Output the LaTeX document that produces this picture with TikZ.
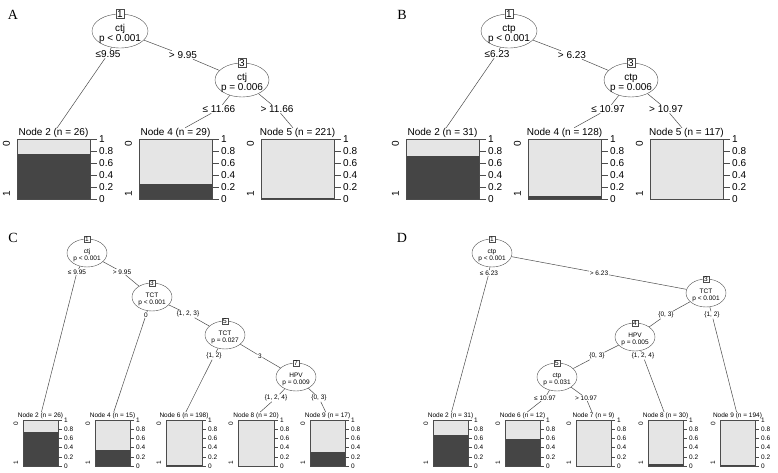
\documentclass[tikz,border=0pt]{standalone}
\usepackage{fontspec}
\setmainfont{Liberation Sans}
\newfontfamily\serifp{Liberation Serif}
\usetikzlibrary{shapes.geometric}
\definecolor{dk}{gray}{0.27}
\definecolor{lt}{gray}{0.9}
\definecolor{ln}{gray}{0.3}
\tikzset{
  fA/.style={font=\fontsize{10}{11}\selectfont},
  fC/.style={font=\fontsize{6.5}{7}\selectfont},
  ell/.style={draw=ln,ellipse,inner sep=0pt},
  numb/.style={draw=ln,fill=white,inner sep=1pt,minimum width=0pt},
  elab/.style={fill=white,inner sep=0.5pt},
  edge/.style={draw=ln,line width=0.5pt},
  panel/.style={font=\serifp\fontsize{14}{15}\selectfont}
}
\newcommand{\innode}[9]{%
  \node[ell,minimum width={2*#4},minimum height={2*#5}] (#1) at (#2,#3) {};
  \node[numb,#9] (#1n) at (#2,{#3-#5}) {#6};
  \node[#9,inner sep=0pt] (#1v) at (#2,{#3-0.1*#5}) {#7};
  \node[#9,inner sep=0pt] (#1p) at (#2,{#3+0.45*#5}) {#8};
}
\newcommand{\leaf}[9]{%
  \fill[lt] (#2,#3) rectangle ({#2+#4},{#3+#5});
  \fill[dk] (#2,{#3+#5}) rectangle ({#2+#4},{#3+#5-#6*#5});
  \draw[ln] (#2,#3) rectangle ({#2+#4},{#3+#5});
  \node[#8,anchor=south,inner sep=0.5pt] (#1) at ({#2+#4/2},{#3-0.5}) {#7};
  \foreach \v in {0,0.2,0.4,0.6,0.8,1}{
    \draw[ln] ({#2+#4},{#3+#5-\v*#5}) -- ({#2+#4+2.2*#9},{#3+#5-\v*#5});
    \node[#8,anchor=west,inner sep=0pt] at ({#2+#4+3*#9},{#3+#5-\v*#5}) {\v};
  }
  \node[#8,rotate=90,inner sep=0pt] at ({#2-3.5*#9},{#3+0.08*#5}) {0};
  \node[#8,rotate=90,inner sep=0pt] at ({#2-3.5*#9},{#3+0.92*#5}) {1};
}
\begin{document}
\begin{tikzpicture}[x=1pt,y=-1pt]
\useasboundingbox (0,0) rectangle (778,473);
\node[panel] at (13,15) {A};
\node[panel] at (402,15) {B};
\node[panel] at (13,238) {C};
\node[panel] at (402,238) {D};
% ---------- A
\innode{a1}{120}{31}{28}{17}{1}{ctj}{p < 0.001}{fA}
\innode{a3}{242}{80}{27}{17}{3}{ctj}{p = 0.006}{fA}
\node[fA,elab] (a1l) at (108,54) {≤9.95};
\node[fA,elab] (a1r) at (183,55) {> 9.95};
\node[fA,elab] (a3l) at (219,109) {≤ 11.66};
\node[fA,elab] (a3r) at (277,109) {> 11.66};
\leaf{a2}{17}{139}{73}{60}{0.75}{Node 2 (n = 26)}{fA}{3}
\leaf{a4}{139}{139}{73}{60}{0.25}{Node 4 (n = 29)}{fA}{3}
\leaf{a5}{261}{139}{73}{60}{0.02}{Node 5 (n = 221)}{fA}{3}
\draw[edge] (a1) -- (a1l); \draw[edge] (a1l) -- (a2);
\draw[edge] (a1) -- (a1r); \draw[edge] (a1r) -- (a3);
\draw[edge] (a3) -- (a3l); \draw[edge] (a3l) -- (a4);
\draw[edge] (a3) -- (a3r); \draw[edge] (a3r) -- (a5);
% ---------- B
\innode{b1}{509}{31}{28}{17}{1}{ctp}{p < 0.001}{fA}
\innode{b3}{631}{80}{27}{17}{3}{ctp}{p = 0.006}{fA}
\node[fA,elab] (b1l) at (497,54) {≤6.23};
\node[fA,elab] (b1r) at (572,55) {> 6.23};
\node[fA,elab] (b3l) at (608,109) {≤ 10.97};
\node[fA,elab] (b3r) at (666,109) {> 10.97};
\leaf{b2}{406}{139}{73}{60}{0.72}{Node 2 (n = 31)}{fA}{3}
\leaf{b4}{528}{139}{73}{60}{0.05}{Node 4 (n = 128)}{fA}{3}
\leaf{b5}{650}{139}{73}{60}{0}{Node 5 (n = 117)}{fA}{3}
\draw[edge] (b1) -- (b1l); \draw[edge] (b1l) -- (b2);
\draw[edge] (b1) -- (b1r); \draw[edge] (b1r) -- (b3);
\draw[edge] (b3) -- (b3l); \draw[edge] (b3l) -- (b4);
\draw[edge] (b3) -- (b3r); \draw[edge] (b3r) -- (b5);
% ---------- C
\innode{c1}{87}{253}{20}{14}{1}{ctj}{p < 0.001}{fC}
\innode{c3}{152}{297}{20}{14}{3}{TCT}{p < 0.001}{fC}
\innode{c5}{225}{335}{20}{14}{5}{TCT}{p = 0.027}{fC}
\innode{c7}{296}{377}{20}{14}{7}{HPV}{p = 0.009}{fC}
\node[fC,elab] (c1l) at (77,272) {≤ 9.95};
\node[fC,elab] (c1r) at (122,272) {> 9.95};
\node[fC,elab] (c3l) at (146,315) {0};
\node[fC,elab] (c3r) at (188,314) {\{1, 2, 3\}};
\node[fC,elab] (c5l) at (214,356) {\{1, 2\}};
\node[fC,elab] (c5r) at (260,356) {3};
\node[fC,elab] (c7l) at (276,398) {\{1, 2, 4\}};
\node[fC,elab] (c7r) at (319,398) {\{0, 3\}};
\leaf{c2}{23}{420}{35}{46}{0.75}{Node 2 (n = 26)}{fC}{2}
\leaf{c4}{95}{420}{35}{46}{0.35}{Node 4 (n = 15)}{fC}{2}
\leaf{c6}{166}{420}{36}{46}{0.02}{Node 6 (n = 198)}{fC}{2}
\leaf{c8}{238}{420}{36}{46}{0}{Node 8 (n = 20)}{fC}{2}
\leaf{c9}{310}{420}{35}{46}{0.3}{Node 9 (n = 17)}{fC}{2}
\draw[edge] (c1) -- (c1l); \draw[edge] (c1l) -- (c2);
\draw[edge] (c1) -- (c1r); \draw[edge] (c1r) -- (c3);
\draw[edge] (c3) -- (c3l); \draw[edge] (c3l) -- (c4);
\draw[edge] (c3) -- (c3r); \draw[edge] (c3r) -- (c5);
\draw[edge] (c5) -- (c5l); \draw[edge] (c5l) -- (c6);
\draw[edge] (c5) -- (c5r); \draw[edge] (c5r) -- (c7);
\draw[edge] (c7) -- (c7l); \draw[edge] (c7l) -- (c8);
\draw[edge] (c7) -- (c7r); \draw[edge] (c7r) -- (c9);
% ---------- D
\innode{d1}{492}{253}{20}{14}{1}{ctp}{p < 0.001}{fC}
\innode{d3}{706}{293}{20}{14}{3}{TCT}{p < 0.001}{fC}
\innode{d4}{635}{337}{20}{14}{4}{HPV}{p = 0.005}{fC}
\innode{d5}{557}{377}{20}{14}{5}{ctp}{p = 0.031}{fC}
\node[fC,elab] (d1l) at (489,273) {≤ 6.23};
\node[fC,elab] (d1r) at (599,273) {> 6.23};
\node[fC,elab] (d3l) at (666,315) {\{0, 3\}};
\node[fC,elab] (d3r) at (712,315) {\{1, 2\}};
\node[fC,elab] (d4l) at (597,356) {\{0, 3\}};
\node[fC,elab] (d4r) at (643,356) {\{1, 2, 4\}};
\node[fC,elab] (d5l) at (545,398) {≤ 10.97};
\node[fC,elab] (d5r) at (586,398) {> 10.97};
\leaf{d2}{433}{420}{35}{46}{0.68}{Node 2 (n = 31)}{fC}{2}
\leaf{d6}{505}{420}{35}{46}{0.58}{Node 6 (n = 12)}{fC}{2}
\leaf{d7}{576}{420}{35}{46}{0}{Node 7 (n = 9)}{fC}{2}
\leaf{d8}{648}{420}{35}{46}{0.05}{Node 8 (n = 30)}{fC}{2}
\leaf{d9}{720}{420}{35}{46}{0.02}{Node 9 (n = 194)}{fC}{2}
\draw[edge] (d1) -- (d1l); \draw[edge] (d1l) -- (d2);
\draw[edge] (d1) -- (d1r); \draw[edge] (d1r) -- (d3);
\draw[edge] (d3) -- (d3l); \draw[edge] (d3l) -- (d4);
\draw[edge] (d3) -- (d3r); \draw[edge] (d3r) -- (d9);
\draw[edge] (d4) -- (d4l); \draw[edge] (d4l) -- (d5);
\draw[edge] (d4) -- (d4r); \draw[edge] (d4r) -- (d8);
\draw[edge] (d5) -- (d5l); \draw[edge] (d5l) -- (d6);
\draw[edge] (d5) -- (d5r); \draw[edge] (d5r) -- (d7);
\end{tikzpicture}
\end{document}
